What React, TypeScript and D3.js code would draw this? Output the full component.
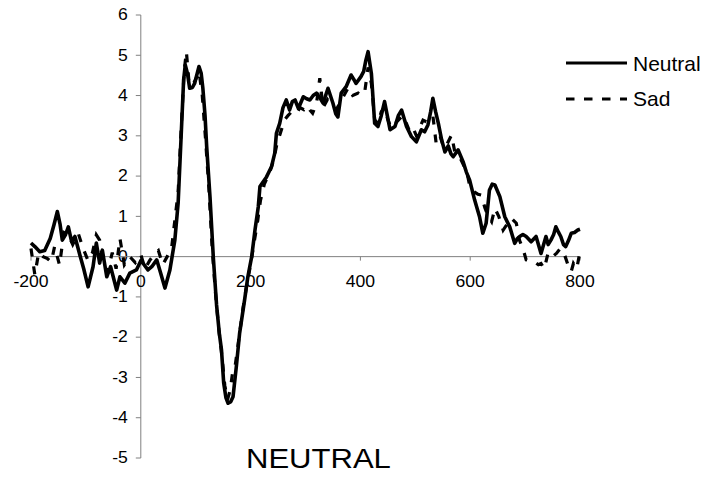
import * as React from "react";
import * as d3 from "d3";

// ERP waveforms, [ms, µV]
const neutral: [number, number][] = [
  [-200, 0.34], [-193, 0.25], [-184, 0.12], [-175, 0.15], [-165, 0.45], [-158, 0.8],
  [-152, 1.12], [-147, 0.8], [-143, 0.41], [-137, 0.55], [-132, 0.74], [-126, 0.37],
  [-120, 0.5], [-111, 0.04], [-104, -0.3], [-96, -0.75], [-87, -0.25], [-81, 0.34],
  [-75, -0.16], [-70, 0.16], [-62, -0.5], [-55, -0.25], [-44, -0.83], [-38, -0.5],
  [-29, -0.66], [-20, -0.41], [-8, -0.33], [0, -0.1], [6, -0.2], [13, -0.33],
  [20, -0.25], [29, -0.08], [36, -0.4], [44, -0.78], [53, -0.33], [62, 0.41],
  [68, 1.33], [74, 3.15], [78, 4.39], [81, 4.76], [85, 4.55], [89, 4.18],
  [94, 4.2], [98, 4.3], [106, 4.72], [110, 4.55], [113, 4.19], [117, 3.5],
  [120, 2.73], [126, 1.49], [132, 0], [138, -1.2], [143, -1.9], [147, -2.32],
  [151, -3.14], [155, -3.5], [159, -3.64], [164, -3.6], [168, -3.48], [174, -2.73],
  [180, -1.9], [189, -1.08], [195, -0.5], [202, 0], [208, 0.66], [214, 1.24],
  [217, 1.74], [229, 1.98], [238, 2.23], [244, 2.57], [247, 3.06], [253, 3.31],
  [259, 3.7], [265, 3.89], [271, 3.64], [276, 3.85], [281, 3.89], [287, 3.68],
  [296, 3.97], [302, 3.92], [308, 3.89], [314, 4.0], [320, 4.06], [326, 3.95],
  [332, 3.81], [341, 4.18], [350, 3.81], [355, 3.55], [359, 3.47], [365, 4.06],
  [374, 4.22], [383, 4.51], [388, 4.4], [392, 4.3], [401, 4.47], [406, 4.6],
  [410, 4.88], [414, 5.09], [420, 4.55], [426, 3.31], [432, 3.23], [438, 3.5],
  [444, 3.85], [449, 3.5], [454, 3.15], [463, 3.23], [469, 3.5], [475, 3.64],
  [484, 3.23], [493, 2.98], [502, 2.85], [511, 3.15], [517, 3.1], [523, 3.27],
  [528, 3.6], [532, 3.93], [537, 3.6], [542, 3.31], [548, 2.9], [554, 2.6],
  [560, 2.75], [565, 2.55], [569, 2.48], [578, 2.65], [587, 2.36], [593, 2.1],
  [599, 1.9], [608, 1.41], [617, 0.99], [623, 0.58], [629, 0.83], [635, 1.65],
  [640, 1.8], [645, 1.78], [654, 1.49], [663, 0.99], [672, 0.74], [681, 0.33],
  [686, 0.45], [690, 0.5], [696, 0.55], [702, 0.5], [711, 0.37], [720, 0.5],
  [729, 0.08], [738, 0.5], [742, 0.3], [747, 0.41], [752, 0.55], [756, 0.74],
  [761, 0.6], [765, 0.5], [770, 0.3], [774, 0.25], [779, 0.4], [784, 0.58],
  [790, 0.6], [796, 0.66], [800, 0.68],
];

const sad: [number, number][] = [
  [-200, 0.2], [-193, -0.45], [-186, 0.1], [-178, 0.0], [-170, -0.05], [-163, -0.13],
  [-157, 0.25], [-148, -0.21], [-140, 0.6], [-132, 0.55], [-124, 0.3], [-114, 0.58],
  [-105, 0.2], [-96, -0.1], [-88, 0.1], [-81, 0.54], [-75, 0.41], [-68, -0.2],
  [-60, -0.37], [-52, 0.1], [-45, -0.3], [-38, 0.45], [-30, -0.2], [-20, 0.0],
  [-10, -0.15], [0, 0.05], [8, -0.3], [16, -0.1], [24, 0.05], [32, 0.15],
  [40, -0.2], [48, 0.0], [56, 0.2], [62, 0.9], [68, 1.6], [74, 3.3],
  [79, 4.6], [83, 5.09], [88, 4.3], [94, 4.25], [100, 4.4], [106, 4.6],
  [112, 4.0], [118, 2.9], [124, 1.7], [130, 0.2], [136, -0.9], [142, -1.8],
  [148, -2.5], [153, -3.2], [158, -3.55], [163, -3.3], [167, -2.9], [172, -2.7],
  [178, -2.1], [186, -1.3], [193, -0.7], [200, -0.2], [207, 0.4], [213, 0.9],
  [218, 1.4], [225, 1.8], [235, 2.1], [242, 2.4], [248, 2.8], [255, 3.1],
  [262, 3.4], [268, 3.5], [275, 3.6], [283, 3.55], [290, 3.7], [297, 3.65],
  [303, 3.75], [308, 3.64], [313, 3.56], [320, 3.8], [326, 4.43], [332, 3.7],
  [340, 3.9], [348, 3.75], [356, 3.65], [362, 3.8], [370, 4.0], [378, 4.2],
  [386, 4.0], [396, 4.06], [402, 4.0], [408, 4.1], [414, 4.7], [420, 4.3],
  [426, 3.4], [432, 3.3], [438, 3.6], [444, 3.7], [450, 3.4], [456, 3.2],
  [463, 3.3], [470, 3.4], [477, 3.5], [484, 3.3], [490, 3.1], [496, 3.19],
  [502, 3.0], [508, 3.2], [514, 3.39], [520, 3.35], [526, 3.45], [532, 3.5],
  [538, 2.81], [545, 3.0], [552, 2.7], [558, 2.8], [566, 3.02], [572, 2.6],
  [580, 2.5], [587, 2.3], [594, 2.1], [600, 1.7], [608, 1.6], [614, 1.55],
  [620, 1.53], [627, 1.2], [633, 1.0], [639, 0.87], [645, 1.2], [652, 1.0],
  [660, 0.66], [667, 0.8], [675, 0.95], [684, 0.83], [690, 0.4], [696, 0.2],
  [702, -0.08], [710, -0.1], [717, -0.13], [724, -0.2], [729, -0.17], [735, -0.3],
  [742, 0.1], [750, 0.0], [757, 0.08], [764, 0.2], [771, 0.08], [778, -0.2],
  [784, -0.37], [788, -0.17], [794, -0.3], [800, 0.12],
];

const xTicks = [-200, 0, 200, 400, 600, 800];
const yTicks = [-5, -4, -3, -2, -1, 0, 1, 2, 3, 4, 5, 6];
const seriesNames = ["Neutral", "Sad"];
const title = "NEUTRAL";

const font = "'Liberation Sans', Arial, sans-serif";

export default function App() {
  const width = 725;
  const height = 479;

  const x = d3.scaleLinear().domain([-200, 800]).range([31, 580]);
  const y = d3.scaleLinear().domain([-5, 6]).range([458, 15]);

  const line = d3
    .line<[number, number]>()
    .x((d) => x(d[0]))
    .y((d) => y(d[1]));

  const axisColor = "#808080";
  const x0 = x(0);
  const y0 = y(0);

  return (
    <svg
      width={width}
      height={height}
      style={{ position: "absolute", left: 0, top: 0, background: "#fff" }}
      fontFamily={font}
    >
      {/* y axis */}
      <line x1={x0} x2={x0} y1={y(6)} y2={y(-5)} stroke={axisColor} strokeWidth={1} />
      {yTicks.map((t) => (
        <g key={"y" + t}>
          <line x1={x0 - 5} x2={x0} y1={y(t)} y2={y(t)} stroke={axisColor} />
          <text
            transform={`translate(${x0 - 13},${y(t)}) scale(1.1,1)`}
            textAnchor="end"
            dominantBaseline="central"
            fontSize={16}
            fill="#000"
          >
            {t}
          </text>
        </g>
      ))}

      {/* x axis */}
      <line x1={x(-200)} x2={x(800)} y1={y0} y2={y0} stroke={axisColor} strokeWidth={1} />
      {xTicks.map((t) => (
        <g key={"x" + t}>
          <line x1={x(t)} x2={x(t)} y1={y0} y2={y0 + 4} stroke={axisColor} />
          <text
            transform={`translate(${x(t)},${y0 + 25}) scale(1.1,1)`}
            textAnchor="middle"
            dominantBaseline="central"
            fontSize={16}
            fill="#000"
          >
            {t}
          </text>
        </g>
      ))}

      {/* series */}
      <path
        d={line(neutral) ?? ""}
        fill="none"
        stroke="#000"
        strokeWidth={3.6}
        strokeLinejoin="round"
      />
      <path
        d={line(sad) ?? ""}
        fill="none"
        stroke="#000"
        strokeWidth={3.2}
        strokeDasharray="8 10"
      />

      {/* legend */}
      <line x1={566} x2={627} y1={63} y2={63} stroke="#000" strokeWidth={3.2} />
      <text x={633} y={71} fontSize={21} fill="#000">
        {seriesNames[0]}
      </text>
      <line x1={566} x2={627} y1={99} y2={99} stroke="#000" strokeWidth={3.2} strokeDasharray="8.5 9.5" />
      <text x={633} y={106} fontSize={21} fill="#000">
        {seriesNames[1]}
      </text>

      <text
        transform={`translate(246,468) scale(1.15,1)`}
        fontSize={27}
        fill="#000"
      >
        {title}
      </text>
    </svg>
  );
}
